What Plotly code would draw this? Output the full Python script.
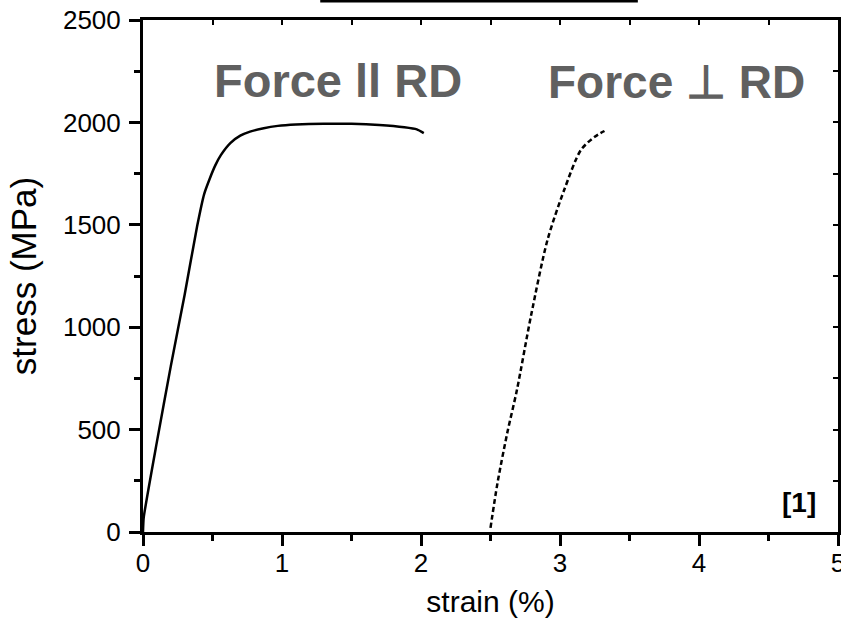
import plotly.graph_objects as go

# Force parallel to RD (solid)
strain_par = [0, 0.005, 0.10, 0.20, 0.30, 0.39, 0.44, 0.48, 0.52, 0.56, 0.63, 0.70, 0.77, 0.86, 0.97, 1.10, 1.30, 1.50, 1.70, 1.88, 1.97, 2.02]
stress_par = [0, 70, 440, 810, 1160, 1495, 1650, 1725, 1790, 1840, 1900, 1935, 1955, 1970, 1983, 1990, 1994, 1993, 1987, 1976, 1966, 1948]

# Force perpendicular to RD (dashed)
strain_perp = [2.50, 2.55, 2.62, 2.69, 2.79, 2.91, 3.03, 3.15, 3.25, 3.32]
stress_perp = [20, 238, 482, 693, 1051, 1426, 1670, 1865, 1930, 1958]

x_ticks = [0, 1, 2, 3, 4, 5]
y_ticks = [0, 500, 1000, 1500, 2000, 2500]

FONT = "Arial, Liberation Sans, sans-serif"

fig = go.Figure()
fig.add_trace(go.Scatter(x=strain_par, y=stress_par, mode="lines",
                         line=dict(color="black", width=2.5, shape="spline", smoothing=0.5),
                         showlegend=False, hoverinfo="skip"))
fig.add_trace(go.Scatter(x=strain_perp, y=stress_perp, mode="lines",
                         line=dict(color="black", width=2.5, dash="5px,3px", shape="spline", smoothing=0.8),
                         showlegend=False, hoverinfo="skip"))
# empty trace to activate the mirrored tick axes
fig.add_trace(go.Scatter(x=[], y=[], xaxis="x2", yaxis="y2", showlegend=False))

axis_common = dict(showgrid=False, zeroline=False, linecolor="black", linewidth=3, automargin=False)

fig.update_layout(
    width=841, height=621,
    margin=dict(l=143, r=3, t=20, b=89),
    paper_bgcolor="white", plot_bgcolor="white",
    font=dict(family=FONT, color="black"),
    xaxis=dict(range=[0, 5], tickvals=x_ticks, ticktext=[str(v) for v in x_ticks],
               ticks="outside", ticklen=11, tickwidth=3, tickcolor="black",
               ticklabeloverflow="allow", ticklabelstandoff=-5,
               minor=dict(dtick=0.5, ticks="outside", ticklen=6, tickwidth=3, tickcolor="black"),
               tickfont=dict(size=26, family=FONT),
               title=dict(text="strain (%)", font=dict(size=30, family=FONT), standoff=14),
               mirror=True, **axis_common),
    yaxis=dict(range=[0, 2500], tickvals=y_ticks, ticktext=[str(v) for v in y_ticks],
               ticks="outside", ticklen=11, tickwidth=3, tickcolor="black",
               ticklabelstandoff=3,
               minor=dict(dtick=250, ticks="outside", ticklen=6, tickwidth=3, tickcolor="black"),
               tickfont=dict(size=26, family=FONT),
               title=dict(text="stress (MPa)", font=dict(size=35, family=FONT), standoff=16),
               mirror=True, **axis_common),
    xaxis2=dict(range=[0, 5], overlaying="x", side="top", anchor="y", dtick=0.5, tick0=0,
                ticks="inside", ticklen=5, tickwidth=2, tickcolor="black", automargin=False,
                showticklabels=False, showgrid=False, zeroline=False, showline=False),
    yaxis2=dict(range=[0, 2500], overlaying="y", side="right", anchor="x", dtick=250, tick0=0,
                ticks="inside", ticklen=5, tickwidth=2, tickcolor="black", automargin=False,
                showticklabels=False, showgrid=False, zeroline=False, showline=False),
)

fig.add_annotation(text="<b>Force ll RD</b>", x=1.40, y=2205, xref="x", yref="y",
                   showarrow=False, font=dict(size=47, color="#606060", family=FONT))
fig.add_annotation(text="<b>Force \u22a5 RD</b>", x=3.835, y=2195, xref="x", yref="y",
                   showarrow=False, font=dict(size=46, color="#606060", family=FONT))
fig.add_annotation(text="<b>[1]</b>", x=4.72, y=146, xref="x", yref="y",
                   showarrow=False, font=dict(size=28, color="black", family=FONT))

fig.add_shape(type="line", xref="paper", yref="paper", x0=0.255, x1=0.712, y0=1.037, y1=1.037,
              line=dict(color="black", width=3))

fig.write_html("out.html", config={"displayModeBar": False},
               post_script="document.body.style.margin='0';document.body.style.overflow='hidden';")
